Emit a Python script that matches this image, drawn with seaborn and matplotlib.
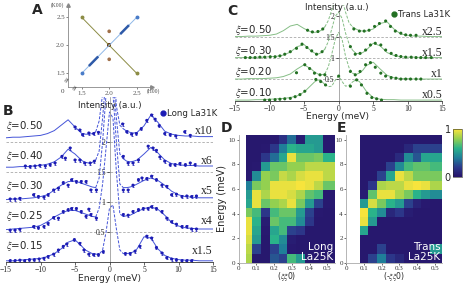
import numpy as np
import matplotlib
matplotlib.use("Agg")
import matplotlib.pyplot as plt
from matplotlib.lines import Line2D
from matplotlib.colors import LinearSegmentedColormap
import seaborn as sns

# ---------------- panel A : cuts in reciprocal space ----------------
A_LONG_H = [1.5, 2.5]
A_LONG_K = [1.5, 2.5]
A_LONG_SEG_H = [[1.63, 1.8], [2.2, 2.36]]
A_LONG_SEG_K = [[1.63, 1.8], [2.2, 2.36]]
A_TRANS_H = [1.5, 2.5]
A_TRANS_K = [2.5, 1.5]
A_SPOT_H = [2.0, 2.0]
A_SPOT_K = [2.25, 1.75]
A_CENTER_H = [2.0]
A_CENTER_K = [2.0]
A_TICKS = [1.5, 2.0, 2.5]

# ---------------- panels B, C : energy scans ----------------
# energy grid of the fitted curves (meV)
E_GRID = [-15, -14, -13, -12, -11, -10, -9, -8, -7, -6, -5, -4,
          -3.5, -3, -2.5, -2, -1.5, -1, -0.5,
          0,
          0.5, 1, 1.5, 2, 2.5, 3, 3.5,
          4, 5, 6, 7, 8, 9, 10, 11, 12, 13, 14, 15]

# longitudinal, La 31K (values above each baseline, already scaled)
B_XI = ["0.50", "0.40", "0.30", "0.25", "0.15"]
B_SCALE = ["x10", "x6", "x5", "x4", "x1.5"]
B_OFFSET = [2.0, 1.5, 1.0, 0.5, 0.0]

B50_LINE = [.07, .08, .08, .09, .10, .11, .14, .19, .28, .37, .25, .14,
            .13, .13, .14, .17, .35, .8, 1.5,
            2.0,
            1.5, .6, .28, .22, .18, .16, .15,
            .16, .27, .45, .33, .18, .13, .11, .10, .10, .09, .09, .09]
B40_LINE = [.08, .08, .09, .09, .10, .11, .13, .17, .25, .38, .30, .19,
            .16, .15, .16, .20, .35, .9, 1.6,
            2.0,
            1.6, .9, .3, .22, .18, .17, .18,
            .20, .30, .41, .32, .20, .14, .12, .11, .11, .10, .10, .10]
B30_LINE = [.04, .05, .05, .06, .07, .09, .12, .20, .28, .34, .35, .31,
            .29, .27, .25, .24, .40, 1.0, 1.8,
            2.2,
            1.8, 1.0, .30, .24, .24, .25, .27,
            .30, .36, .40, .36, .28, .18, .12, .09, .08, .07, .07, .07]
B25_LINE = [.04, .05, .06, .07, .08, .11, .17, .25, .31, .36, .36, .32,
            .30, .28, .26, .25, .40, .8, 1.4,
            2.0,
            1.9, 1.0, .30, .26, .27, .28, .31,
            .34, .39, .42, .38, .28, .16, .10, .07, .06, .05, .05, .05]
B15_LINE = [.02, .02, .03, .04, .05, .06, .09, .14, .22, .33, .37, .26,
            .20, .17, .14, .13, .13, .20, .50,
            .90,
            .95, .55, .20, .14, .14, .15, .17,
            .22, .42, .40, .22, .11, .06, .04, .03, .03, .02, .02, .02]

B50_PX = [-5.0, -4.3, -3.9, -3.0, -2.3, -1.6, 1.9, 2.5, 3.2, 3.9, 4.6, 5.4, 6.1, 6.6, 7.2,
          8.0, 8.8, 9.6, 10.9, 11.7]
B50_PY = [0.25, 0.2, 0.12, 0.15, 0.14, 0.16, 0.3, 0.17, 0.13, 0.14, 0.22, 0.36, 0.45, 0.38, 0.27,
          0.14, 0.12, 0.1, 0.17, 0.11]
B40_PX = [-12.2, -11.5, -10.8, -10.1, -9.3, -8.6, -7.9, -6.9, -6.4, -5.7, -5.0, -4.3, -3.6, -2.8, -2.2,
          2.0, 2.7, 3.4, 4.2, 5.6, 6.3, 6.8, 7.3, 8.0, 8.8, 9.5, 10.2, 11.0, 11.7, 12.4]
B40_PY = [0.10, 0.09, 0.10, 0.11, 0.10, 0.12, 0.15, 0.26, 0.23, 0.40, 0.20, 0.20, 0.15, 0.15, 0.18,
          0.26, 0.15, 0.15, 0.20, 0.43, 0.40, 0.36, 0.25, 0.18, 0.12, 0.12, 0.14, 0.12, 0.15, 0.12]
B30_PX = [-14.4, -13.7, -13.0, -11.0, -10.3, -9.5, -8.9, -8.1, -7.4, -6.7, -6.0, -5.5, -4.8, -4.1, -3.4,
          -2.7, -1.9, 2.0, 2.7, 3.4, 4.2, 4.7, 5.4, 6.1, 6.8, 7.6, 8.3, 9.0, 9.7, 10.5, 11.2, 11.9, 12.6]
B30_PY = [0.05, 0.05, 0.06, 0.12, 0.09, 0.08, 0.12, 0.20, 0.23, 0.32, 0.28, 0.37, 0.34, 0.34, 0.34,
          0.20, 0.20, 0.20, 0.20, 0.28, 0.37, 0.40, 0.39, 0.43, 0.37, 0.28, 0.26, 0.12, 0.13, 0.09, 0.10, 0.09, 0.10]
B25_PX = [-14.4, -13.7, -13.0, -11.0, -10.3, -9.5, -8.9, -8.1, -7.4, -6.7, -6.0, -5.5, -4.8, -4.1, -3.4,
          -3.0, -2.7, -1.9, 2.0, 2.7, 3.4, 4.2, 4.9, 5.6, 6.1, 6.8, 7.6, 8.3, 9.0, 9.7, 10.5, 11.2, 11.9, 12.6]
B25_PY = [0.03, 0.03, 0.045, 0.09, 0.07, 0.09, 0.14, 0.24, 0.23, 0.34, 0.37, 0.39, 0.39, 0.34, 0.26,
          0.38, 0.29, 0.23, 0.29, 0.28, 0.34, 0.37, 0.39, 0.39, 0.42, 0.39, 0.34, 0.23, 0.17, 0.13, 0.09, 0.09, 0.05, 0.05]
B15_PX = [-14.4, -13.7, -13.0, -12.3, -11.6, -10.9, -10.2, -9.5, -8.9, -8.1, -7.4, -6.7, -6.2, -5.1, -4.3,
          -3.7, -3.0, -2.3, -1.6, -0.9, 2.3, 3.0, 3.7, 4.4, 5.4, 6.1, 6.8, 7.6, 8.3, 9.0, 9.7, 10.5, 11.2, 11.9]
B15_PY = [0.02, 0.02, 0.03, 0.02, 0.035, 0.035, 0.05, 0.06, 0.09, 0.13, 0.20, 0.26, 0.30, 0.37, 0.31,
          0.20, 0.13, 0.12, 0.12, 0.17, 0.14, 0.14, 0.18, 0.26, 0.43, 0.40, 0.24, 0.15, 0.07, 0.05, 0.035, 0.02, 0.02, 0.02]

# transverse, La 31K
C_XI = ["0.50", "0.30", "0.20", "0.10"]
C_SCALE = ["x2.5", "x1.5", "x1", "x0.5"]
C_OFFSET = [1.5, 1.0, 0.5, 0.0]

C50_LINE = [.02, .02, .03, .03, .04, .05, .08, .16, .27, .31, .21, .13,
            .12, .13, .17, .25, .4, .65, .9,
            1.0,
            .9, .6, .35, .25, .2, .16, .15,
            .15, .2, .33, .37, .2, .08, .05, .03, .03, .02, .02, .02]
C30_LINE = [.02, .02, .02, .03, .03, .04, .05, .08, .15, .28, .33, .18,
            .13, .10, .14, .22, .4, .7, 1.0,
            1.1,
            .95, .6, .35, .2, .12, .11, .14,
            .2, .36, .3, .14, .07, .04, .03, .03, .02, .02, .02, .02]
C20_LINE = [.01, .01, .02, .02, .02, .03, .04, .07, .13, .25, .35, .25,
            .18, .13, .11, .13, .3, .6, .95,
            1.12,
            .95, .55, .28, .15, .12, .15, .22,
            .33, .41, .25, .1, .04, .02, .02, .01, .01, .01, .01, .01]
C10_LINE = [.01, .01, .01, .02, .02, .03, .04, .05, .07, .11, .2, .36,
            .44, .49, .46, .38, .33, .34, .48,
            .58,
            .45, .34, .36, .44, .49, .45, .34,
            .22, .07, .03, .02, .02, .01, .01, .01, .01, .01, .01, .01]

C50_PX = [-4.5, -3.8, -3.0, -2.3, 2.2, 3.0, 3.7, 4.4, 5.2, 5.9, 6.8, 7.5, 8.2, 9.0, 9.7, 10.4, 11.2]
C50_PY = [0.17, 0.13, 0.14, 0.20, 0.20, 0.15, 0.15, 0.17, 0.26, 0.33, 0.39, 0.26, 0.15, 0.10, 0.06, 0.05, 0.05]
C30_PX = [-13.5, -12.8, -12.1, -11.4, -10.7, -9.9, -9.2, -8.5, -7.8, -7.0, -6.1, -5.3, -4.6, -3.9, -3.2, -2.4,
          1.7, 2.4, 3.1, 3.9, 4.6, 5.3, 6.1, 6.8, 7.6, 8.3, 9.0, 9.7, 10.5, 11.2, 11.9, 12.6, 13.4]
C30_PY = [0.02, 0.02, 0.02, 0.03, 0.03, 0.04, 0.04, 0.06, 0.10, 0.16, 0.24, 0.34, 0.26, 0.18, 0.10, 0.16,
          0.28, 0.10, 0.12, 0.20, 0.32, 0.36, 0.32, 0.20, 0.12, 0.07, 0.045, 0.03, 0.03, 0.02, 0.02, 0.02, 0.02]
C20_PX = [-6.1, -4.9, -4.2, -3.5, -2.7, -2.0, 1.7, 2.4, 3.1, 3.9, 4.6, 5.3, 6.1, 6.8, 7.6, 8.3, 9.0, 9.7,
          10.4, 11.2, 11.9]
C20_PY = [0.16, 0.35, 0.26, 0.15, 0.11, 0.11, 0.19, 0.11, 0.19, 0.35, 0.40, 0.29, 0.15, 0.08, 0.045, 0.03,
          0.01, 0.01, 0.01, 0.01, 0.01]
C10_PX = [-10.7, -10.0, -9.2, -8.5, -7.8, -7.0, -6.3, -5.6, -4.9, -3.3, -2.6, -1.9, 0.0,
          1.7, 2.6, 3.3, 4.1, 4.8, 5.5, 6.2]
C10_PY = [0.01, 0.01, 0.02, 0.03, 0.04, 0.05, 0.09, 0.14, 0.22, 0.50, 0.45, 0.37, 0.58,
          0.34, 0.49, 0.37, 0.17, 0.07, 0.04, 0.01]

# ---------------- panels D, E : intensity maps (La 25K) ----------------
D_Q_EDGES = [0.042, 0.075, 0.125, 0.175, 0.225, 0.275, 0.325, 0.375, 0.425, 0.475, 0.525, 0.575]
E_Q_EDGES = [0.075, 0.125, 0.175, 0.225, 0.275, 0.325, 0.375, 0.425, 0.475, 0.525, 0.575]
EN_TOP = 10.4
N_EN = 14
# rows listed from high energy (top) to low energy (bottom)
D_MAP = [
    [0.02, 0.02, 0.02, 0.03, 0.15, 0.35, 0.05, 0.50, 0.50, 0.03, 0.03],
    [0.02, 0.02, 0.03, 0.18, 0.40, 0.60, 0.55, 0.55, 0.50, 0.03, 0.03],
    [0.02, 0.02, 0.18, 0.35, 0.55, 0.97, 0.72, 0.72, 0.75, 0.60, 0.60],
    [0.02, 0.03, 0.50, 0.72, 0.72, 0.80, 0.80, 0.88, 0.88, 0.88, 0.88],
    [0.03, 0.45, 0.80, 0.75, 0.90, 0.85, 0.93, 0.97, 0.97, 0.88, 0.88],
    [0.40, 0.75, 0.80, 0.97, 0.97, 0.97, 1.00, 0.97, 0.88, 0.72, 0.72],
    [0.50, 0.97, 0.85, 0.97, 0.97, 0.93, 0.85, 0.70, 0.65, 0.03, 0.03],
    [0.55, 0.97, 0.72, 0.80, 0.85, 0.97, 0.75, 0.50, 0.22, 0.03, 0.03],
    [0.75, 0.65, 0.18, 0.65, 0.72, 0.72, 0.50, 0.22, 0.03, 0.02, 0.02],
    [0.97, 0.60, 0.05, 0.72, 0.65, 0.65, 0.45, 0.18, 0.02, 0.02, 0.02],
    [0.97, 0.55, 0.03, 0.55, 0.65, 0.22, 0.18, 0.02, 0.02, 0.02, 0.02],
    [0.93, 0.50, 0.02, 0.60, 0.45, 0.05, 0.02, 0.02, 0.02, 0.02, 0.02],
    [0.88, 0.22, 0.02, 0.22, 0.40, 0.03, 0.02, 0.02, 0.02, 0.02, 0.02],
    [0.85, 0.02, 0.02, 0.28, 0.22, 0.65, 0.50, 0.02, 0.02, 0.02, 0.02],
]
E_MAP = [
    [0.02, 0.02, 0.02, 0.02, 0.02, 0.02, 0.02, 0.02, 0.02, 0.02],
    [0.02, 0.02, 0.02, 0.02, 0.02, 0.10, 0.22, 0.22, 0.22, 0.22],
    [0.02, 0.02, 0.02, 0.02, 0.12, 0.45, 0.28, 0.55, 0.55, 0.55],
    [0.02, 0.02, 0.02, 0.22, 0.45, 0.65, 0.70, 0.70, 0.65, 0.65],
    [0.02, 0.02, 0.22, 0.55, 0.97, 0.88, 0.75, 0.75, 0.75, 0.75],
    [0.02, 0.18, 0.85, 0.88, 0.88, 0.97, 1.00, 0.97, 0.85, 0.85],
    [0.05, 0.70, 0.97, 0.97, 0.85, 0.75, 0.60, 0.50, 0.45, 0.45],
    [0.50, 0.93, 0.75, 0.60, 0.50, 0.22, 0.08, 0.03, 0.02, 0.02],
    [1.00, 0.60, 0.45, 0.10, 0.18, 0.05, 0.02, 0.02, 0.02, 0.02],
    [0.97, 0.50, 0.02, 0.02, 0.02, 0.02, 0.02, 0.02, 0.02, 0.02],
    [0.55, 0.02, 0.02, 0.02, 0.02, 0.02, 0.02, 0.02, 0.02, 0.02],
    [0.02, 0.02, 0.02, 0.02, 0.02, 0.02, 0.02, 0.02, 0.02, 0.02],
    [0.02, 0.02, 0.22, 0.02, 0.02, 0.02, 0.02, 0.02, 0.50, 0.50],
    [0.02, 0.22, 0.40, 0.18, 0.10, 0.02, 0.02, 0.02, 0.02, 0.02],
]

# ---------------- style ----------------
sns.set_style("ticks")
plt.rcParams["font.family"] = ["DejaVu Sans"]
plt.rcParams["mathtext.fontset"] = "stix"
SERIF = "Liberation Serif"
B_LINE_C, B_PT_C = "#4454d8", "#1c1cb4"
C_LINE_C, C_PT_C = "#86be86", "#237023"
AX_GRAY = "#888888"
MAP_CMAP = LinearSegmentedColormap.from_list(
    "map", ["#27146b", "#2c3a8c", "#1f7f99", "#2ab38a", "#93d050", "#f7e43c"])

W, H = 463, 283
fig = plt.figure(figsize=(W / 100, H / 100), dpi=100)


def box(x0, y0, x1, y1):
    # pixel box (left, top, right, bottom) -> figure rect
    return [x0 / W, 1 - y1 / H, (x1 - x0) / W, (y1 - y0) / H]


def ftext(x, y, s, **kw):
    fig.text(x / W, 1 - y / H, s, **kw)


def serif_ticks(ax, size):
    for lab in ax.get_xticklabels() + ax.get_yticklabels():
        lab.set_fontfamily(SERIF)
        lab.set_fontsize(size)


# ---------------- A ----------------
axA = fig.add_axes(box(68.3, 5, 151.7, 87.3))
axA.set_xlim(1.256, 2.773)
axA.set_ylim(1.25, 2.72)
sns.despine(ax=axA)
for s in ["left", "bottom"]:
    axA.spines[s].set_color(AX_GRAY)
    axA.spines[s].set_linewidth(0.6)
axA.plot(1, 0, ">", transform=axA.transAxes, clip_on=False, ms=2.5, color=AX_GRAY)
axA.plot(0, 1, "^", transform=axA.transAxes, clip_on=False, ms=2.5, color=AX_GRAY)
axA.plot(A_TRANS_H, A_TRANS_K, color="#8c8c45", lw=0.7, marker="o", ms=1.8)
axA.plot(A_LONG_H, A_LONG_K, color="#8fb8e8", lw=0.7, marker="o", ms=1.8, mfc="#4a7cc8", mec="#4a7cc8")
for h, k in zip(A_LONG_SEG_H, A_LONG_SEG_K):
    axA.plot(h, k, color="#2e5aa8", lw=1.8, solid_capstyle="butt")
sns.scatterplot(x=A_SPOT_H, y=A_SPOT_K, ax=axA, color="#a0704a", s=7, edgecolor="none")
sns.scatterplot(x=A_CENTER_H, y=A_CENTER_K, ax=axA, color="#6b3d1e", s=9, marker="s", edgecolor="none")
axA.set_xticks(A_TICKS)
axA.set_yticks(A_TICKS)
axA.set_xticklabels(["1.5", "2.0", "2.5"])
axA.set_yticklabels(["1.5", "2.0", "2.5"])
axA.tick_params(length=1.5, width=0.5, pad=1, colors="#555555")
serif_ticks(axA, 5)
ftext(57, 5, "(K00)", fontsize=4, family=SERIF, ha="center", va="center", color="#444444")
ftext(153, 91, "(H00)", fontsize=4, family=SERIF, ha="center", va="center", color="#444444")
ftext(62, 91, "0", fontsize=5, family=SERIF, ha="center", va="center", color="#444444")
ftext(67, 80, "≈", fontsize=5, ha="center", va="center", color="#444444", rotation=60)
ftext(75, 88, "≈", fontsize=5, ha="center", va="center", color="#444444", rotation=60)
ftext(37, 10, "A", fontsize=10, fontweight="bold", ha="center", va="center")


# ---------------- B, C ----------------
def draw_scan(ax, offset, line, px, py, lc, pc, err):
    g = np.array(E_GRID)
    y = np.array(line) + offset
    left, right, mid = g <= -2, g >= 2, (g >= -2) & (g <= 2)
    sns.lineplot(x=g[left], y=y[left], ax=ax, color=lc, lw=0.7)
    sns.lineplot(x=g[right], y=y[right], ax=ax, color=lc, lw=0.7)
    ax.plot(g[mid], y[mid], color=lc, lw=0.7, ls=(0, (3, 1.5)))
    py = np.array(py) + offset
    if err:
        ax.errorbar(px, py, yerr=err, fmt="none", ecolor=pc, elinewidth=0.5, capsize=0.8, capthick=0.5)
    sns.scatterplot(x=px, y=py, ax=ax, color=pc, s=5, edgecolor="none", zorder=3)


def scan_axes(rect, ytop, offsets, xis, scales, lab_dy, sc_dy):
    ax = fig.add_axes(rect)
    ax.set_xlim(-15, 15)
    ax.set_ylim(0, ytop)
    ax.spines["top"].set_visible(False)
    ax.spines["right"].set_visible(False)
    ax.spines["left"].set_position(("data", 0))
    ax.spines["left"].set_color(AX_GRAY)
    ax.spines["left"].set_linewidth(0.5)
    ax.spines["bottom"].set_linewidth(0.6)
    ax.spines["bottom"].set_color("#333333")
    for off in offsets:
        if off > 0:
            ax.axhline(off, color="#aaaaaa", lw=0.6, ls=(0, (3, 2)), zorder=0)
    for off, xi, sc in zip(offsets, xis, scales):
        ax.text(-15, off + lab_dy, r"$\xi$=" + xi, fontsize=7.4, ha="left", va="center")
        ax.text(15, off + sc_dy, sc, fontsize=8.5, family=SERIF, ha="right", va="center")
    ax.set_xticks([-15, -10, -5, 0, 5, 10, 15])
    ax.set_yticks([0.5, 1, 1.5, 2])
    ax.set_yticklabels(["0.5", "1", "1.5", "2"])
    ax.tick_params(length=2, width=0.5, pad=1)
    serif_ticks(ax, 5.5)
    return ax


axB = scan_axes(box(6, 97, 213, 262), 2.75, B_OFFSET, B_XI, B_SCALE, 0.26, 0.18)
for off, line, px, py in zip(B_OFFSET,
                             [B50_LINE, B40_LINE, B30_LINE, B25_LINE, B15_LINE],
                             [B50_PX, B40_PX, B30_PX, B25_PX, B15_PX],
                             [B50_PY, B40_PY, B30_PY, B25_PY, B15_PY]):
    draw_scan(axB, off, line, px, py, B_LINE_C, B_PT_C, 0.025)
axB.set_xlabel("")
axB.set_ylabel("")
axB.legend(handles=[Line2D([], [], marker="o", ls="none", color=B_PT_C, ms=3.5)],
           labels=["Long La31K"], loc="center left", bbox_to_anchor=(0.745, 0.9),
           frameon=False, fontsize=6.2, handlelength=0.6, handletextpad=0.2, borderpad=0,
           borderaxespad=0)
ftext(110, 105, "Intensity (a.u.)", fontsize=6.3, ha="center", va="center")
ftext(110, 278.5, "Energy (meV)", fontsize=6.6, ha="center", va="center")
ftext(8, 111, "B", fontsize=10, fontweight="bold", ha="center", va="center")

axC = scan_axes(box(235, 5, 442.3, 100.5), 2.27, C_OFFSET, C_XI, C_SCALE, 0.17, 0.14)
for off, line, px, py in zip(C_OFFSET,
                             [C50_LINE, C30_LINE, C20_LINE, C10_LINE],
                             [C50_PX, C30_PX, C20_PX, C10_PX],
                             [C50_PY, C30_PY, C20_PY, C10_PY]):
    draw_scan(axC, off, line, px, py, C_LINE_C, C_PT_C, 0)
axC.set_xlabel("")
axC.set_ylabel("")
axC.legend(handles=[Line2D([], [], marker="o", ls="none", color=C_PT_C, ms=3.5)],
           labels=["Trans La31K"], loc="center left", bbox_to_anchor=(0.755, 0.9),
           frameon=False, fontsize=6.2, handlelength=0.6, handletextpad=0.2, borderpad=0,
           borderaxespad=0)
ftext(337, 7, "Intensity (a.u.)", fontsize=6.3, ha="center", va="center")
ftext(338, 116.5, "Energy (meV)", fontsize=6.6, ha="center", va="center")
ftext(232, 11, "C", fontsize=10, fontweight="bold", ha="center", va="center")

# ---------------- D, E ----------------
en_edges = np.linspace(0, EN_TOP, N_EN + 1)


def map_axes(x0, x1, q_edges, data, lab, xlab):
    ax = fig.add_axes(box(x0, 135, x1, 262.7))
    m = ax.pcolormesh(q_edges, en_edges, np.flipud(np.array(data)), cmap=MAP_CMAP,
                      vmin=0, vmax=1, shading="flat")
    ax.set_xlim(0, 0.54)
    ax.set_ylim(0, EN_TOP)
    ax.spines["top"].set_visible(False)
    ax.spines["right"].set_visible(False)
    for s in ["left", "bottom"]:
        ax.spines[s].set_color("#aaaaaa")
        ax.spines[s].set_linewidth(0.6)
    ax.set_xticks([0, 0.1, 0.2, 0.3, 0.4, 0.5])
    ax.set_xticklabels(["0", "0.1", "0.2", "0.3", "0.4", "0.5"])
    ax.set_yticks([0, 2, 4, 6, 8, 10])
    ax.tick_params(length=1.5, width=0.5, pad=1, colors="#333333")
    serif_ticks(ax, 5)
    ax.text(0.532, 0.08, lab, color="white", fontsize=7.5, ha="right", va="bottom",
            linespacing=1.0)
    ftext((x0 + x1) / 2, 276.8, xlab, fontsize=5.6, ha="center", va="center")
    return ax, m


axD, mesh = map_axes(238.5, 334.6, D_Q_EDGES, D_MAP, "Long\nLa25K", r"($\xi\xi$0)")
axD.set_ylabel("Energy (meV)", fontsize=7, labelpad=1)
axE, _ = map_axes(346.3, 441.7, E_Q_EDGES, E_MAP, "Trans\nLa25K", r"(-$\xi\xi$0)")
ftext(226, 128, "D", fontsize=10, fontweight="bold", ha="center", va="center")
ftext(342, 128, "E", fontsize=10, fontweight="bold", ha="center", va="center")

cax = fig.add_axes(box(452.7, 129.3, 462, 176.7))
cb = fig.colorbar(mesh, cax=cax, ticks=[0, 1])
cb.outline.set_linewidth(0.4)
cax.yaxis.set_ticks_position("left")
cax.tick_params(length=0, pad=1.5, labelsize=7)

fig.savefig("out.png", dpi=100)
